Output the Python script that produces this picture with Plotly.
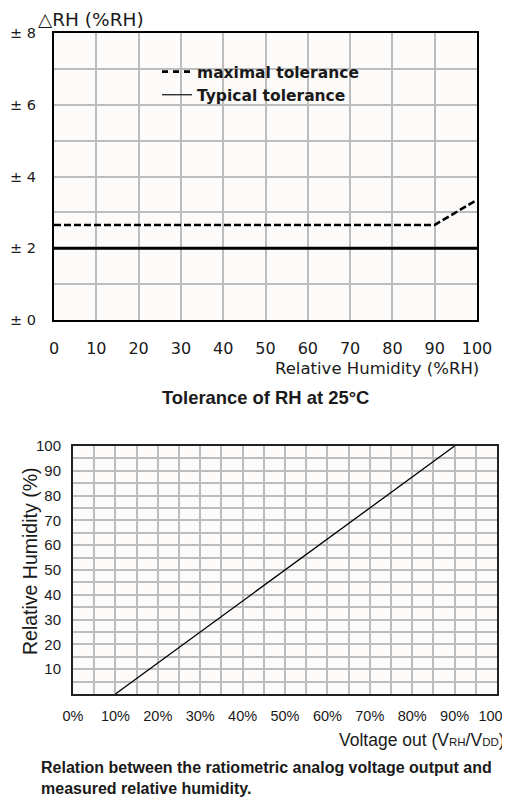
import plotly.graph_objects as go

# ---- data: top chart (tolerance of RH at 25°C)
max_tol_x = [0, 90, 100]
max_tol_y = [2.65, 2.65, 3.35]
typ_tol_x = [0, 100]
typ_tol_y = [2.0, 2.0]
top_x_ticks = [0, 10, 20, 30, 40, 50, 60, 70, 80, 90, 100]
top_y_tickvals = [0, 2, 4, 6, 8]
top_y_ticktext = ["± 0", "± 2", "± 4", "± 6", "± 8"]

# ---- data: bottom chart (voltage out vs RH)
volt_x = [0.10, 0.90]
rh_y = [0, 100]
bot_x_ticks = [0, 0.1, 0.2, 0.3, 0.4, 0.5, 0.6, 0.7, 0.8, 0.9, 1.0]
bot_x_ticktext = ["0%", "10%", "20%", "30%", "40%", "50%", "60%", "70%", "80%", "90%", "100%"]
bot_y_ticks = [10, 20, 30, 40, 50, 60, 70, 80, 90, 100]

W, H = 510, 801
OFF = 8  # page body margin
SANS = "Liberation Sans, Arial, sans-serif"
WIDE = "DejaVu Sans, Verdana, sans-serif"
TXT = "#1a1a1a"
GRID = "#bdbdbd"
BG = "#fcfbfa"


def px_x(p):
    return (p - OFF) / W


def px_y(p):
    return 1 - (p - OFF) / H


fig = go.Figure()

fig.add_trace(go.Scatter(x=max_tol_x, y=max_tol_y, mode="lines", showlegend=False,
                         line=dict(color="black", width=2.6, dash="7px,3px"), xaxis="x", yaxis="y"))
fig.add_trace(go.Scatter(x=typ_tol_x, y=typ_tol_y, mode="lines", showlegend=False,
                         line=dict(color="black", width=3), xaxis="x", yaxis="y"))
# legend entries (thin sample for the typical line, like the reference)
fig.add_trace(go.Scatter(x=[None], y=[None], mode="lines", name="<b>maximal tolerance</b>",
                         line=dict(color="black", width=2.6, dash="6px,5px"), xaxis="x", yaxis="y"))
fig.add_trace(go.Scatter(x=[None], y=[None], mode="lines", name="<b>Typical tolerance</b>",
                         line=dict(color="#222", width=1.3), xaxis="x", yaxis="y"))
fig.add_trace(go.Scatter(x=volt_x, y=rh_y, mode="lines", showlegend=False,
                         line=dict(color="black", width=1.3), xaxis="x2", yaxis="y2"))

fig.update_layout(
    width=W, height=H,
    autosize=False,
    margin=dict(l=0, r=0, t=0, b=0, pad=0, autoexpand=False),
    paper_bgcolor="white",
    plot_bgcolor=BG,
    font=dict(family=SANS, color=TXT),
    showlegend=True,
    legend=dict(x=px_x(157), y=px_y(55), xanchor="left", yanchor="top",
                bgcolor="rgba(0,0,0,0)", font=dict(size=15.5, color=TXT, family=WIDE),
                tracegroupgap=0, itemwidth=30),
    xaxis=dict(domain=[px_x(54), px_x(477)], anchor="y", range=[0, 100], automargin=False,
               tickvals=top_x_ticks, showgrid=True, gridcolor=GRID, gridwidth=1.5,
               showline=True, linecolor="black", linewidth=2, mirror=True,
               ticks="", tickfont=dict(size=16, family=WIDE), ticklabelstandoff=13, zeroline=False),
    yaxis=dict(domain=[px_y(320), px_y(33)], anchor="x", range=[0, 8], automargin=False,
               tickvals=top_y_tickvals, ticktext=top_y_ticktext,
               showgrid=True, gridcolor=GRID, gridwidth=1.5,
               minor=dict(dtick=1, tick0=0, showgrid=True, gridcolor=GRID, gridwidth=1.5),
               showline=True, linecolor="black", linewidth=2, mirror=True,
               ticks="", tickfont=dict(size=14.5, family=WIDE), ticklabelstandoff=13, zeroline=False),
    xaxis2=dict(domain=[px_x(73), px_x(497)], anchor="y2", range=[0, 1], automargin=False,
                tickvals=bot_x_ticks, ticktext=bot_x_ticktext, ticklabeloverflow="allow",
                showgrid=True, gridcolor=GRID, gridwidth=1.5,
                minor=dict(dtick=0.05, tick0=0, showgrid=True, gridcolor=GRID, gridwidth=1.5),
                showline=True, linecolor="#222", linewidth=2, mirror=True,
                ticks="", tickfont=dict(size=14.5), ticklabelstandoff=8, zeroline=False),
    yaxis2=dict(domain=[px_y(694), px_y(446)], anchor="x2", range=[0, 100], automargin=False,
                tickvals=bot_y_ticks, showgrid=True, gridcolor=GRID, gridwidth=1.5,
                minor=dict(dtick=5, tick0=0, showgrid=True, gridcolor=GRID, gridwidth=1.5),
                showline=True, linecolor="#222", linewidth=2, mirror=True,
                ticks="", tickfont=dict(size=15), ticklabelstandoff=7, zeroline=False),
)

ann = [
    dict(text="△RH (%RH)", x=px_x(37), y=1.0, xanchor="left", yanchor="top", borderpad=0,
         font=dict(size=18.5, family=WIDE)),
    dict(text="Relative Humidity (%RH)", x=px_x(481), y=px_y(368), xanchor="right", yanchor="middle",
         font=dict(size=16.5, family=WIDE)),
    dict(text="<b>Tolerance of RH at 25°C</b>", x=px_x(265), y=px_y(397), xanchor="center", yanchor="middle",
         font=dict(size=18.4)),
    dict(text="Relative Humidity (%)", x=px_x(30), y=px_y(562), xanchor="center", yanchor="middle",
         textangle=-90, font=dict(size=19.5)),
    dict(text="Voltage out (V<span style='font-size:11.5px'>RH</span>/V<span style='font-size:11.5px'>DD</span>)",
         x=px_x(507), y=px_y(740), xanchor="right", yanchor="middle", font=dict(size=17.5)),
    dict(text="<b>Relation between the ratiometric analog voltage output and<br>measured relative humidity.</b>",
         x=px_x(39), y=px_y(757), xanchor="left", yanchor="top", align="left", font=dict(size=16)),
]
for a in ann:
    a.update(xref="paper", yref="paper", showarrow=False)
fig.update_layout(annotations=ann)

fig.write_html("out.html")
